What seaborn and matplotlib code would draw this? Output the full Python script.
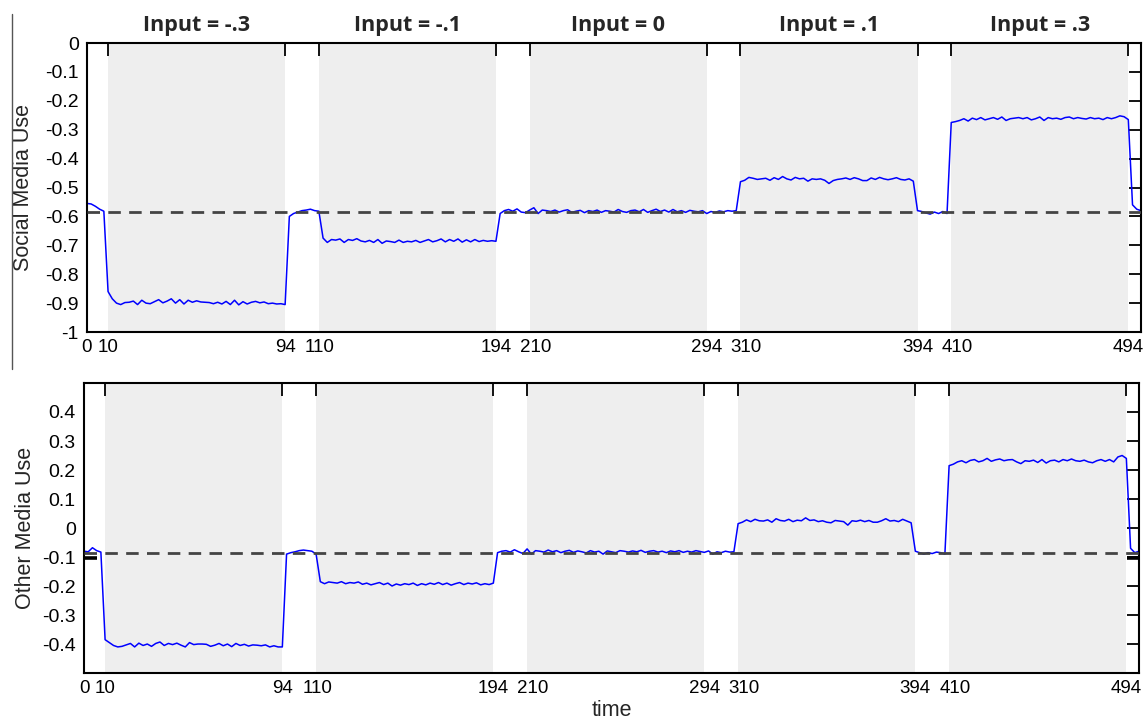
import numpy as np
import pandas as pd
import matplotlib
matplotlib.use("Agg")
import matplotlib.pyplot as plt
from matplotlib.lines import Line2D
from matplotlib.transforms import ScaledTranslation
import seaborn as sns

# ---------------- data ----------------
tick_positions = [0, 10, 94, 110, 194, 210, 294, 310, 394, 410, 494]
tick_labels = ["0", "10", "94", "110", "194", "210", "294", "310", "394", "410", "494"]
input_labels = ["Input = -.3", "Input = -.1", "Input = 0", "Input = .1", "Input = .3"]
input_starts = [10, 110, 210, 310, 410]
input_ends = [94, 194, 294, 394, 494]
social_baseline = -0.585
other_baseline = -0.085

# Social media use, sampled every 2 time steps from t=0 to t=500
social_use = [
    -0.555, -0.557, -0.565, -0.575, -0.582, -0.860, -0.885,
    -0.900, -0.905, -0.898, -0.897, -0.893, -0.905, -0.890, -0.900, -0.902, -0.895,
    -0.888, -0.899, -0.893, -0.885, -0.900, -0.888, -0.903, -0.890, -0.897, -0.892,
    -0.896, -0.897, -0.898, -0.902, -0.897, -0.903, -0.894, -0.905, -0.890, -0.906,
    -0.895, -0.903, -0.897, -0.894, -0.899, -0.896, -0.902, -0.900, -0.903, -0.902,
    -0.905, -0.600, -0.590, -0.585, -0.580, -0.578, -0.575, -0.580, -0.582,
    -0.675, -0.690, -0.680, -0.682, -0.678, -0.690, -0.680, -0.683, -0.677, -0.685,
    -0.688, -0.683, -0.690, -0.680, -0.693, -0.685, -0.687, -0.690, -0.682, -0.690,
    -0.686, -0.688, -0.683, -0.690, -0.685, -0.680, -0.688, -0.684, -0.678, -0.688,
    -0.680, -0.686, -0.678, -0.689, -0.681, -0.688, -0.680, -0.687, -0.683, -0.686,
    -0.684,
    -0.686,
    -0.590, -0.580, -0.576, -0.582, -0.574, -0.585, -0.587, -0.578, -0.570, -0.590,
    -0.578, -0.580, -0.583, -0.578, -0.585, -0.580, -0.577, -0.586, -0.582, -0.579,
    -0.587, -0.580, -0.583, -0.578, -0.586, -0.580, -0.582, -0.585, -0.576, -0.583,
    -0.586, -0.580, -0.578, -0.584, -0.576, -0.586, -0.580, -0.575, -0.583, -0.578,
    -0.585, -0.576, -0.584, -0.580, -0.586, -0.579, -0.582, -0.584, -0.580, -0.590,
    -0.583, -0.586, -0.581, -0.584, -0.580, -0.582, -0.580,
    -0.480,
    -0.475, -0.465, -0.468, -0.472, -0.470, -0.468, -0.475, -0.466, -0.472, -0.462,
    -0.470, -0.474, -0.465, -0.470, -0.468, -0.478, -0.470, -0.472, -0.470, -0.475,
    -0.486, -0.476, -0.472, -0.470, -0.467, -0.472, -0.466, -0.470, -0.476, -0.476,
    -0.467, -0.472, -0.465, -0.470, -0.473, -0.470, -0.466, -0.472, -0.474, -0.470,
    -0.478,
    -0.580, -0.583, -0.588, -0.592, -0.585, -0.590, -0.583, -0.590, -0.275,
    -0.272, -0.268, -0.262, -0.270, -0.260, -0.265, -0.258, -0.266, -0.262, -0.258,
    -0.264, -0.256, -0.268, -0.262, -0.260, -0.258, -0.262, -0.258, -0.266, -0.262,
    -0.256, -0.268, -0.258, -0.262, -0.260, -0.264, -0.258, -0.256, -0.262, -0.258,
    -0.261, -0.263, -0.258, -0.262, -0.260, -0.265, -0.258, -0.262, -0.258, -0.252,
    -0.255,
    -0.265, -0.560, -0.575, -0.580,
]

# Other media use, sampled every 2 time steps from t=0 to t=500
other_use = [
    -0.080, -0.082, -0.068, -0.078, -0.083, -0.385, -0.395,
    -0.405, -0.410, -0.408, -0.403, -0.398, -0.410, -0.397, -0.405, -0.400, -0.408,
    -0.398, -0.393, -0.405, -0.398, -0.402, -0.397, -0.404, -0.410, -0.395, -0.402,
    -0.400, -0.400, -0.401, -0.408, -0.404, -0.398, -0.406, -0.400, -0.409, -0.398,
    -0.405, -0.401, -0.407, -0.403, -0.404, -0.406, -0.403, -0.410, -0.406, -0.410,
    -0.410, -0.090, -0.085, -0.082, -0.078, -0.076, -0.078, -0.080, -0.090,
    -0.185, -0.192, -0.186, -0.188, -0.190, -0.185, -0.192, -0.188, -0.190, -0.186,
    -0.194, -0.190, -0.196, -0.192, -0.188, -0.195, -0.190, -0.200, -0.193, -0.197,
    -0.192, -0.195, -0.190, -0.198, -0.192, -0.196, -0.190, -0.194, -0.188, -0.195,
    -0.190, -0.197, -0.192, -0.188, -0.195, -0.190, -0.193, -0.189, -0.196, -0.192,
    -0.195,
    -0.190,
    -0.085, -0.080, -0.078, -0.083, -0.075, -0.082, -0.088, -0.072, -0.090, -0.078,
    -0.080, -0.083, -0.076, -0.082, -0.078, -0.085, -0.080, -0.077, -0.084, -0.079,
    -0.082, -0.086, -0.078, -0.083, -0.080, -0.090, -0.079, -0.082, -0.085, -0.078,
    -0.080, -0.083, -0.079, -0.082, -0.077, -0.084, -0.080, -0.078, -0.083, -0.080,
    -0.085, -0.079, -0.082, -0.078, -0.084, -0.080, -0.083, -0.078, -0.081, -0.084,
    -0.079, -0.090, -0.082, -0.085, -0.080, -0.083, -0.082,
    0.015,
    0.020, 0.028, 0.022, 0.030, 0.025, 0.024, 0.028, 0.020, 0.032, 0.026,
    0.024, 0.030, 0.022, 0.027, 0.025, 0.035, 0.026, 0.028, 0.022, 0.025,
    0.020, 0.018, 0.026, 0.024, 0.022, 0.010, 0.025, 0.023, 0.027, 0.022,
    0.026, 0.020, 0.020, 0.025, 0.032, 0.024, 0.026, 0.022, 0.030, 0.024,
    0.018,
    -0.080, -0.085, -0.090, -0.085, -0.088, -0.083, -0.085, -0.090, 0.215,
    0.220, 0.228, 0.232, 0.225, 0.233, 0.236, 0.228, 0.232, 0.240, 0.230,
    0.235, 0.238, 0.232, 0.235, 0.236, 0.228, 0.222, 0.232, 0.230, 0.234,
    0.226, 0.236, 0.224, 0.232, 0.234, 0.228, 0.236, 0.232, 0.238, 0.232,
    0.230, 0.234, 0.228, 0.225, 0.232, 0.236, 0.230, 0.236, 0.228, 0.245,
    0.250,
    0.240, -0.070, -0.085, -0.080,
]

time_step = 2
time_social = np.arange(len(social_use)) * time_step
time_other = np.arange(len(other_use)) * time_step

df_social = pd.DataFrame({"time": time_social, "value": social_use})
df_other = pd.DataFrame({"time": time_other, "value": other_use})

# ---------------- styling ----------------
sns.set_style("white")
plt.rcParams["font.family"] = ["Liberation Sans", "DejaVu Sans"]

fig = plt.figure(figsize=(11.46, 7.24), dpi=100)
ax1 = fig.add_axes([0.0759, 0.5414, 0.9197, 0.3992])
ax2 = fig.add_axes([0.0733, 0.0704, 0.9206, 0.4006])

shade = "#eeeeee"
line_blue = "#0000ff"
label_shift_px = {"110": 1, "210": 6, "310": 6, "410": 6}


def style_axes(ax, ylim, yticks, ylabels, ylabel, baseline, df, ylab_x):
    for s, e in zip(input_starts, input_ends):
        ax.axvspan(s, e, color=shade, lw=0, zorder=0)
    ax.axhline(baseline, color="#444444", lw=2.0, ls=(0, (4.5, 3.0)), zorder=3)
    sns.lineplot(data=df, x="time", y="value", ax=ax, color=line_blue,
                 lw=1.1, zorder=2, estimator=None)
    ax.set_xlim(0, 500)
    ax.set_ylim(*ylim)
    ax.set_xticks(tick_positions)
    ax.set_xticklabels(tick_labels, fontsize=13.5)
    ax.set_yticks(yticks)
    ax.set_yticklabels(ylabels, fontsize=14)
    ax.set_ylabel(ylabel, fontsize=15.5)
    ax.yaxis.set_label_coords(ylab_x, 0.5)
    ax.set_xlabel("")
    ax.tick_params(axis="both", direction="in", length=9, width=1.3,
                   top=True, right=True, colors="black", pad=5)
    ax.tick_params(axis="y", pad=6)
    for lab in ax.get_xticklabels():
        dx = label_shift_px.get(lab.get_text(), 0)
        if dx:
            lab.set_transform(lab.get_transform() +
                              ScaledTranslation(dx / 100, 0, fig.dpi_scale_trans))
    for sp in ax.spines.values():
        sp.set_visible(True)
        sp.set_color("black")
        sp.set_linewidth(1.5)
    ax.set_facecolor("white")


style_axes(ax1, (-1, 0), np.round(np.arange(-1.0, 0.01, 0.1), 1),
           ["-1", "-0.9", "-0.8", "-0.7", "-0.6", "-0.5", "-0.4", "-0.3", "-0.2", "-0.1", "0"],
           "Social Media Use", social_baseline, df_social, -0.0505)
style_axes(ax2, (-0.5, 0.5), np.round(np.arange(-0.4, 0.41, 0.1), 1),
           ["-0.4", "-0.3", "-0.2", "-0.1", "0", "0.1", "0.2", "0.3", "0.4"],
           "Other Media Use", other_baseline, df_other, -0.0457)
ax2.set_xlabel("time", fontsize=15.5, labelpad=2)

# heavier tick just below -0.1 on the lower panel (as in the original)
ax2.set_yticks([-0.104], minor=True)
ax2.tick_params(axis="y", which="minor", direction="in", length=9, width=2.6,
                left=True, right=True, colors="black")

# Input titles above the top panel
for s, e, lab in zip(input_starts, input_ends, input_labels):
    ax1.text((s + e) / 2, 1.062, lab, transform=ax1.get_xaxis_transform(),
             ha="center", va="center", fontsize=15.5, fontweight="bold",
             family=["Open Sans", "DejaVu Sans"])

# thin vertical rule at the far left of the top panel
fig.add_artist(Line2D([0.0105, 0.0105], [0.49, 0.98], transform=fig.transFigure,
                      color="#555555", lw=1.0))

fig.savefig("out.png", dpi=100)
